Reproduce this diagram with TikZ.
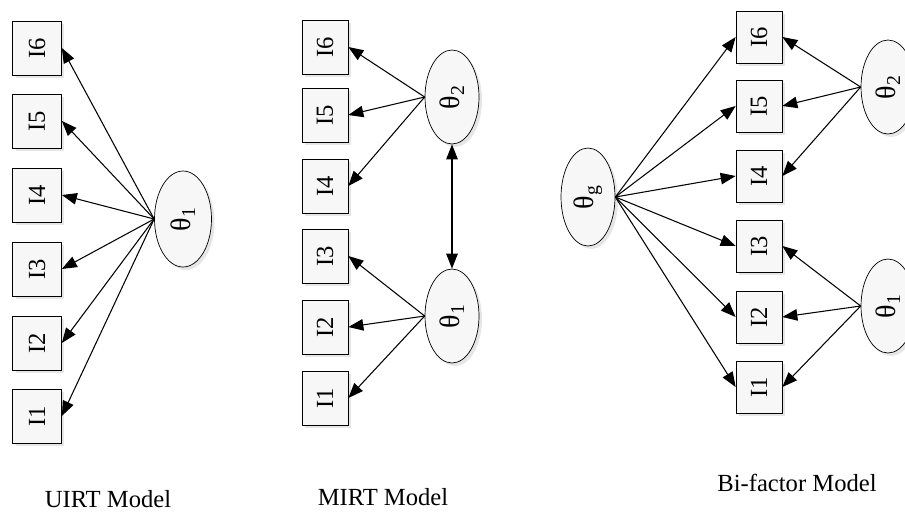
\documentclass[tikz,border=0pt]{standalone}
\usepackage{fontspec}
\setmainfont{Liberation Serif}
\usetikzlibrary{arrows.meta, shapes.geometric, shadows}

\begin{document}
\begin{tikzpicture}[x=0.02cm, y=-0.02cm,
    shade/.style={drop shadow={opacity=0.2, shadow xshift=0.6mm, shadow yshift=-0.6mm}},
    item/.style={draw, fill=gray!6, shade, inner sep=0pt, minimum width=0.92cm, minimum height=1.08cm, font=\fontsize{14}{16}\selectfont},
    latent/.style={ellipse, draw, fill=gray!6, shade, inner sep=0pt, minimum width=1.08cm, minimum height=1.88cm, font=\fontsize{16}{18}\selectfont},
    load/.style={-{Triangle[length=3mm, width=2.3mm]}, semithick},
    corr/.style={{Triangle[length=3mm, width=2.3mm]}-{Triangle[length=3mm, width=2.3mm]}, semithick},
    caption/.style={font=\fontsize{14}{16}\selectfont}]
    \useasboundingbox (0,0) rectangle (905,514);

    % UIRT model
    \node[item, minimum width=0.98cm] (u6) at (37,48) {\rotatebox{90}{I6}};
    \node[item, minimum width=0.98cm] (u5) at (37,121) {\rotatebox{90}{I5}};
    \node[item, minimum width=0.98cm] (u4) at (37,195) {\rotatebox{90}{I4}};
    \node[item, minimum width=0.98cm] (u3) at (37,269) {\rotatebox{90}{I3}};
    \node[item, minimum width=0.98cm] (u2) at (37,343) {\rotatebox{90}{I2}};
    \node[item, minimum width=0.98cm] (u1) at (37,416) {\rotatebox{90}{I1}};
    \node[latent, minimum width=1.14cm, minimum height=1.92cm] (ut1) at (183,219) {\rotatebox{90}{θ\textsubscript{1}}};
    \foreach \i in {1,...,6}
        \draw[load] (ut1.west) -- (u\i.east);
    \node[caption] (ucap) at (108,499) {UIRT Model};

    % MIRT model
    \node[item] (m6) at (325,47) {\rotatebox{90}{I6}};
    \node[item] (m5) at (325,115) {\rotatebox{90}{I5}};
    \node[item] (m4) at (325,186) {\rotatebox{90}{I4}};
    \node[item] (m3) at (325,256) {\rotatebox{90}{I3}};
    \node[item] (m2) at (325,327) {\rotatebox{90}{I2}};
    \node[item] (m1) at (325,398) {\rotatebox{90}{I1}};
    \node[latent] (mt2) at (452,97) {\rotatebox{90}{θ\textsubscript{2}}};
    \node[latent] (mt1) at (452,316) {\rotatebox{90}{θ\textsubscript{1}}};
    \foreach \i in {4,5,6}
        \draw[load] (mt2.west) -- (m\i.east);
    \foreach \i in {1,2,3}
        \draw[load] (mt1.west) -- (m\i.east);
    \draw[corr] (mt2.south) -- (mt1.north);
    \node[caption] (mcap) at (383,497) {MIRT Model};

    % Bi-factor model
    \node[item, minimum height=1.04cm] (b6) at (759,37) {\rotatebox{90}{I6}};
    \node[item, minimum height=1.04cm] (b5) at (759,106) {\rotatebox{90}{I5}};
    \node[item, minimum height=1.04cm] (b4) at (759,176) {\rotatebox{90}{I4}};
    \node[item, minimum height=1.04cm] (b3) at (759,246) {\rotatebox{90}{I3}};
    \node[item, minimum height=1.04cm] (b2) at (759,317) {\rotatebox{90}{I2}};
    \node[item, minimum height=1.04cm] (b1) at (759,387) {\rotatebox{90}{I1}};
    \node[latent, minimum height=1.96cm] (bg) at (588,197) {\rotatebox{90}{θ\textsubscript{g}}};
    \node[latent] (bt2) at (888,87) {\rotatebox{90}{θ\textsubscript{2}}};
    \node[latent] (bt1) at (888,306) {\rotatebox{90}{θ\textsubscript{1}}};
    \foreach \i in {1,...,6}
        \draw[load] (bg.east) -- (b\i.west);
    \foreach \i in {4,5,6}
        \draw[load] (bt2.west) -- (b\i.east);
    \foreach \i in {1,2,3}
        \draw[load] (bt1.west) -- (b\i.east);
    \node[caption] (bcap) at (797,483) {Bi-factor Model};
\end{tikzpicture}
\end{document}
